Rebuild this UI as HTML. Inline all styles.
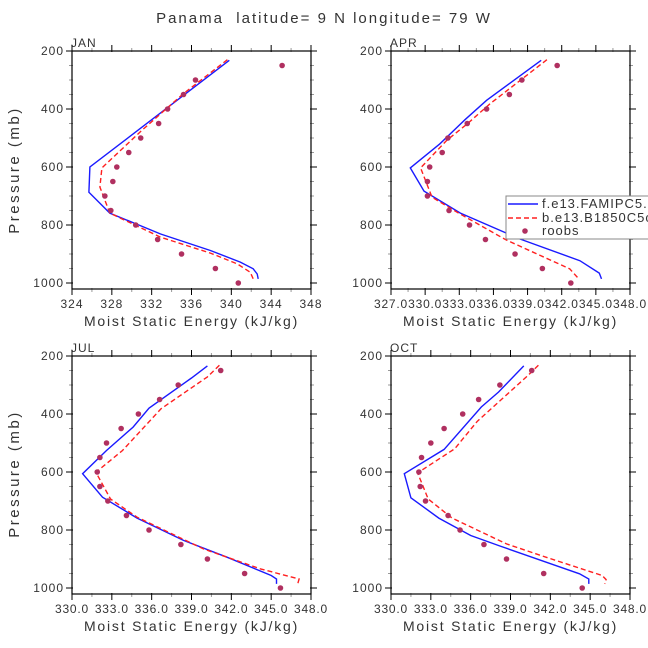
<!DOCTYPE html>
<html><head><meta charset="utf-8"><style>
body{margin:0;background:#fff;}
svg{display:block;font-family:"Liberation Sans","DejaVu Sans",sans-serif;}
</style></head><body>
<svg id="chart" width="648" height="648" viewBox="0 0 648 648">
<text x="324" y="23" text-anchor="middle" font-size="15" letter-spacing="2" fill="#333" xml:space="preserve">Panama  latitude= 9 N longitude= 79 W</text>
<text transform="translate(19,170) rotate(-90)" text-anchor="middle" font-size="15" letter-spacing="2.5" fill="#333">Pressure (mb)</text>
<text transform="translate(19,474) rotate(-90)" text-anchor="middle" font-size="15" letter-spacing="2.5" fill="#333">Pressure (mb)</text>
</svg>
<script>
const obsLevels=[250,300,350,400,450,500,550,600,650,700,750,800,850,900,950,1000];
const janObs=[345.1,336.4,335.2,333.6,332.7,330.9,329.7,328.5,328.1,327.3,327.9,330.4,332.6,335.0,338.4,340.7];
const janBlueP=[232,600,687,759,831,888,928,951,969,986];
const janBlue=[339.8,325.8,325.7,327.8,332.9,337.9,340.9,342.2,342.6,342.7];
const janRedP=[230,347,474,603,669,759,842,897,934,963,986];
const janRed=[339.6,335.2,331.0,327.0,326.8,327.8,332.9,337.9,340.6,341.9,342.2];
const aprObs=[341.6,338.5,337.4,335.4,333.7,332.0,331.5,330.4,330.2,330.2,332.1,333.9,335.3,337.9,340.3,342.8];
const aprBlueP=[232,370,437,520,603,683,759,848,923,966,986];
const aprBlue=[340.2,335.4,333.5,331.3,328.7,329.9,333.1,338.3,343.6,345.3,345.5];
const aprRedP=[230,382,451,508,603,704,756,851,905,951,986];
const aprRed=[340.7,335.7,333.7,331.9,329.6,330.6,332.8,337.1,340.1,342.7,343.5];
const julObs=[341.2,338.0,336.6,335.0,333.7,332.6,332.1,331.9,332.1,332.7,334.1,335.8,338.2,340.2,343.0,345.7];
const julBlueP=[234,276,380,445,526,606,687,759,836,894,957,969,986];
const julBlue=[340.2,339.0,335.8,334.6,332.6,330.8,332.3,334.9,338.4,341.7,345.0,345.4,345.4];
const julRedP=[232,272,382,526,601,693,756,865,934,969,986];
const julRed=[341.1,340.2,336.7,333.8,331.8,332.9,334.9,339.9,344.2,347.1,347.0];
const octObs=[340.6,338.2,336.6,335.4,334.0,333.0,332.3,332.1,332.2,332.6,334.3,335.2,337.0,338.7,341.5,344.4];
const octBlueP=[234,324,376,522,606,689,759,819,855,951,969,986];
const octBlue=[340.0,338.1,336.8,334.0,331.0,331.5,333.6,336.0,338.2,344.2,344.9,344.9];
const octRedP=[232,272,425,520,603,693,759,848,894,957,971,986];
const octRed=[341.1,340.2,336.5,334.8,332.0,332.8,334.6,338.7,341.7,345.9,346.2,346.1];
const yTicks=[200,400,600,800,1000];

const NS='http://www.w3.org/2000/svg';
const svg=document.getElementById('chart');
function mk(tag,attrs,parent){const e=document.createElementNS(NS,tag);for(const k in attrs)e.setAttribute(k,attrs[k]);(parent||svg).appendChild(e);return e;}

const panels=[
 {key:'jan',label:'JAN',L:72,T:51,xmin:324,xmax:348,step:4,dec:0,obs:janObs,bp:janBlueP,bv:janBlue,rp:janRedP,rv:janRed},
 {key:'apr',label:'APR',L:391,T:51,xmin:327,xmax:348,step:3,dec:1,obs:aprObs,bp:aprBlueP,bv:aprBlue,rp:aprRedP,rv:aprRed},
 {key:'jul',label:'JUL',L:72,T:356,xmin:330,xmax:348,step:3,dec:1,obs:julObs,bp:julBlueP,bv:julBlue,rp:julRedP,rv:julRed},
 {key:'oct',label:'OCT',L:391,T:356,xmin:330,xmax:348,step:3,dec:1,obs:octObs,bp:octBlueP,bv:octBlue,rp:octRedP,rv:octRed}
];
const W=239,H=238;
panels.forEach(p=>{
 const g=mk('g',{});
 
 
 const xs=v=>p.L+(v-p.xmin)/(p.xmax-p.xmin)*W;
 const ys=v=>p.T+(v-200)*0.29;
 const t=mk('text',{x:p.L-1,y:p.T-4,'font-size':12,'letter-spacing':1,fill:'#333'},g);t.textContent=p.label;
 
 
 for(let v=200;v<=1000;v+=50){
  const maj=yTicks.includes(v);const y=ys(v);const len=maj?6:3;const c=maj?'#000':'#999';
  mk('line',{x1:p.L-len,x2:p.L+1,y1:y,y2:y,stroke:c,'stroke-width':1},g);
  mk('line',{x1:p.L+W-1,x2:p.L+W+len,y1:y,y2:y,stroke:c,'stroke-width':1},g);
 }
 yTicks.forEach(v=>{const tl=mk('text',{x:p.L-8,y:ys(v)+4,'text-anchor':'end','font-size':12,'letter-spacing':1,fill:'#333'},g);tl.textContent=v;
  
  });
 const half=p.step/2;
 for(let v=p.xmin;v<=p.xmax+1e-6;v+=half){
  const k=Math.round((v-p.xmin)/half);const maj=k%2===0;const x=xs(v);const len=maj?6:3;const c=maj?'#000':'#999';
  mk('line',{x1:x,x2:x,y1:p.T-len,y2:p.T+1,stroke:c,'stroke-width':1},g);
  mk('line',{x1:x,x2:x,y1:p.T+H-1,y2:p.T+H+len,stroke:c,'stroke-width':1},g);
  if(maj){const tl=mk('text',{x:x,y:p.T+H+19,'text-anchor':'middle','font-size':12,'letter-spacing':p.dec?0.8:1,fill:'#333'},g);tl.textContent=v.toFixed(p.dec);
   
   }
 }
 const xt=mk('text',{x:p.L+W/2,y:p.T+H+37,'text-anchor':'middle','font-size':14,'letter-spacing':1.8,fill:'#333'},g);xt.textContent='Moist Static Energy (kJ/kg)';
 
 
 const pts=(P,V)=>P.map((pp,i)=>xs(V[i]).toFixed(1)+','+ys(pp).toFixed(1)).join(' ');
 const bl=mk('polyline',{points:pts(p.bp,p.bv),fill:'none',stroke:'#1a1aff','stroke-width':1.4},g);
 
 
 const rl=mk('polyline',{points:pts(p.rp,p.rv),fill:'none',stroke:'#ff2020','stroke-width':1.4,'stroke-dasharray':'5,3'},g);
 
 
 p.obs.forEach((v,i)=>{const c=mk('circle',{cx:xs(v),cy:ys(obsLevels[i]),r:2.8,fill:'#b03060'},g);
  
  });
 const fr=mk('rect',{x:p.L,y:p.T,width:W,height:H,fill:'none',stroke:'#000','stroke-width':1.2},g);
 
 
});
const lg=mk('g',{});


mk('rect',{x:506,y:196,width:160,height:43,fill:'#fff',stroke:'#888','stroke-width':1},lg);
mk('line',{x1:508,x2:538,y1:204,y2:204,stroke:'#1a1aff','stroke-width':1.4},lg);
mk('line',{x1:508,x2:538,y1:218,y2:218,stroke:'#ff2020','stroke-width':1.4,'stroke-dasharray':'5,3'},lg);
mk('circle',{cx:525,cy:231,r:2.8,fill:'#b03060'},lg);
[['f.e13.FAMIPC5.r',208],['b.e13.B1850C5c',222],['roobs',235]].forEach(([s,y])=>{const t=mk('text',{x:542,y:y,'font-size':13,'letter-spacing':1,fill:'#333'},lg);t.textContent=s;
 
 });
</script>
</body></html>
